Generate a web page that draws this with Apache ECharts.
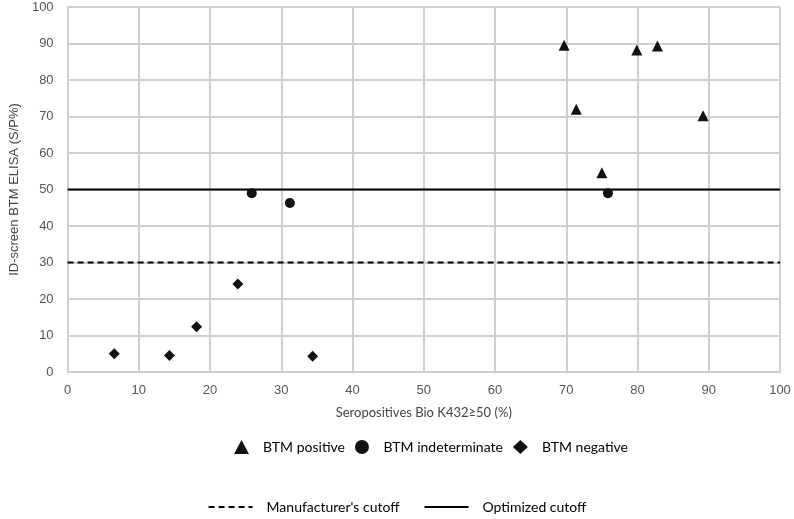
<!DOCTYPE html>
<html>
<head>
<meta charset="utf-8">
<script src="https://cdn.jsdelivr.net/npm/echarts@6/dist/echarts.min.js"></script>
<style>
  html, body { margin: 0; padding: 0; background: #fff; }
  #chart { width: 794px; height: 519px; }
</style>
</head>
<body>
<div id="chart"></div>
<script>
// 数据：[x, y]
const positive = [[69.7, 89.5], [71.4, 72], [75.0, 54.6], [79.9, 88.2], [82.8, 89.3], [89.2, 70.2]]
const indeterminate = [[25.85, 49.0], [31.2, 46.3], [75.85, 49.0]]
const negative = [[6.55, 5.0], [14.3, 4.5], [18.1, 12.4], [23.9, 24.1], [34.4, 4.3]]
const manufacturerCutoff = 30
const optimizedCutoff = 50
const axisTicks = { min: 0, max: 100, interval: 10 }

const mark = '#111'
const gridColor = '#d0d0d0'
const labelFont = 'Liberation Sans, Arial, sans-serif'
const titleFont = 'Lato, Inter, sans-serif'

const chart = echarts.init(document.getElementById('chart'))

const scatter = (name, symbol, size, data) => ({
  name,
  type: 'scatter',
  symbol,
  symbolSize: size,
  data,
  itemStyle: { color: mark, opacity: 1 },
  z: 5
})

const cutoff = (name, value, type) => ({
  name,
  type: 'line',
  data: [[axisTicks.min, value], [axisTicks.max, value]],
  showSymbol: false,
  symbol: 'none',
  lineStyle: { color: '#000', width: 2, type },
  itemStyle: { color: '#000' },
  z: 3
})

const legendText = { fontFamily: titleFont, fontSize: 14, color: '#000', padding: [0, 0, 0, 9] }

const options = {
  animation: false,
  grid: { left: 58, right: 14, top: 7, bottom: 147 },
  legend: [
    {
      data: ['BTM positive', 'BTM indeterminate', 'BTM negative'],
      top: 435,
      left: 229,
      itemGap: 10,
      itemWidth: 15,
      itemHeight: 14,
      textStyle: legendText
    },
    {
      data: ['Manufacturer\'s cutoff', 'Optimized cutoff'],
      top: 495,
      left: 'center',
      itemGap: 24,
      itemWidth: 44,
      itemHeight: 14,
      itemStyle: { opacity: 0 },
      textStyle: legendText
    }
  ],
  xAxis: {
    type: 'value',
    ...axisTicks,
    name: 'Seropositives Bio K432≥50 (%)',
    nameLocation: 'middle',
    nameGap: 34,
    nameTextStyle: { fontFamily: titleFont, fontSize: 13, color: '#444' },
    axisLine: { show: true, lineStyle: { color: gridColor, width: 2 } },
    axisTick: { show: false },
    axisLabel: { fontFamily: labelFont, fontSize: 13, color: '#555', margin: 12 },
    splitLine: { show: true, lineStyle: { color: gridColor, width: 2 } }
  },
  yAxis: {
    type: 'value',
    ...axisTicks,
    name: 'ID-screen BTM ELISA (S/P%)',
    nameLocation: 'middle',
    nameGap: 44,
    nameTextStyle: { fontFamily: labelFont, fontSize: 13, color: '#444' },
    axisLine: { show: true, lineStyle: { color: gridColor, width: 2 } },
    axisTick: { show: false },
    axisLabel: { fontFamily: labelFont, fontSize: 13, color: '#555', margin: 14 },
    splitLine: { show: true, lineStyle: { color: gridColor, width: 2 } }
  },
  series: [
    scatter('BTM positive', 'triangle', 11, positive),
    scatter('BTM indeterminate', 'circle', 10, indeterminate),
    scatter('BTM negative', 'diamond', 11, negative),
    cutoff('Manufacturer\'s cutoff', manufacturerCutoff, [6, 4]),
    cutoff('Optimized cutoff', optimizedCutoff, 'solid')
  ]
}

chart.setOption(options)
</script>
</body>
</html>
